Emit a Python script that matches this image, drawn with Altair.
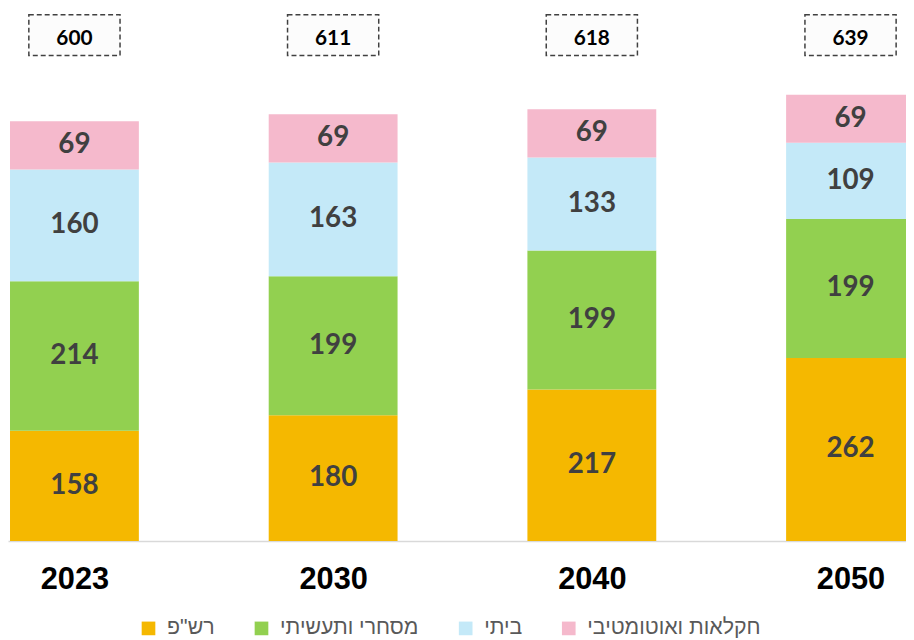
import altair as alt
import pandas as pd

years = ["2023", "2030", "2040", "2050"]
series = ['רש"פ', "מסחרי ותעשיתי", "ביתי", "חקלאות ואוטומטיבי"]
colors = ["#F5B800", "#92D050", "#C4E9F8", "#F5B9CC"]
rashap = [158, 180, 217, 262]
commercial = [214, 199, 199, 199]
home = [160, 163, 133, 109]
agri = [69, 69, 69, 69]
totals = [600, 611, 618, 639]

values = [rashap, commercial, home, agri]
rows = []
for i, yr in enumerate(years):
    base = 0
    for s_idx, s in enumerate(series):
        v = values[s_idx][i]
        rows.append({"year": yr, "series": s, "idx": s_idx, "value": v,
                     "y0": base, "y1": base + v, "mid": base + v / 2})
        base += v
df = pd.DataFrame(rows)
tot_df = pd.DataFrame({"year": years, "total": totals})

xscale = alt.Scale(type="point", domain=years, padding=0.2356, align=0.545)
yscale = alt.Scale(domain=[0, 759])

x_enc = alt.X("year:N", scale=xscale, sort=years,
              axis=alt.Axis(title=None, ticks=False, labelAngle=0,
                            labelFontSize=31, labelFontWeight="bold",
                            labelFont="Liberation Sans", labelColor="#000000",
                            labelPadding=24, domainColor="#D9D9D9",
                            domainWidth=1.5))

bars = alt.Chart(df).mark_bar(clip=True, width=130).encode(
    x=x_enc,
    y=alt.Y("y0:Q", scale=yscale, axis=None),
    y2="y1:Q",
    color=alt.Color("series:N", scale=alt.Scale(domain=series, range=colors),
                    legend=alt.Legend(title=None, orient="none", legendX=131,
                                      legendY=612, direction="horizontal",
                                      columns=4, symbolType="square",
                                      symbolSize=190, symbolStrokeWidth=0,
                                      labelFontSize=21.5, labelColor="#595959",
                                      labelFont="Liberation Sans",
                                      labelLimit=400,
                                      labelOffset=8, columnPadding=36)),
    order=alt.Order("idx:Q"),
)

labels = alt.Chart(df).mark_text(
    fontSize=28, fontWeight="bold", color="#404040", font="Lato",
    baseline="middle", clip=True
).encode(
    x=alt.X("year:N", scale=xscale, sort=years),
    y=alt.Y("mid:Q", scale=yscale),
    text="value:Q",
)

boxes = alt.Chart(tot_df).mark_bar(
    width=92, fill="#FCFCFC", stroke="#404040", strokeDash=[5, 3],
    strokeWidth=1.5
).encode(
    x=alt.X("year:N", scale=xscale, sort=years),
    y=alt.value(4),
    y2=alt.value(45),
)

tot_text = alt.Chart(tot_df).mark_text(
    fontSize=21, fontWeight="bold", color="#000000", font="Lato",
    baseline="middle"
).encode(
    x=alt.X("year:N", scale=xscale, sort=years),
    y=alt.value(29),
    text="total:Q",
)

chart = alt.layer(bars, labels, boxes, tot_text).properties(
    width=906, height=535,
    autosize=alt.AutoSizeParams(type="none"),
    padding={"left": 0, "top": 0, "right": 0, "bottom": 97},
    background="white",
).configure_view(stroke=None)

chart.save("out.html", embed_options={"renderer": "svg", "actions": False})
